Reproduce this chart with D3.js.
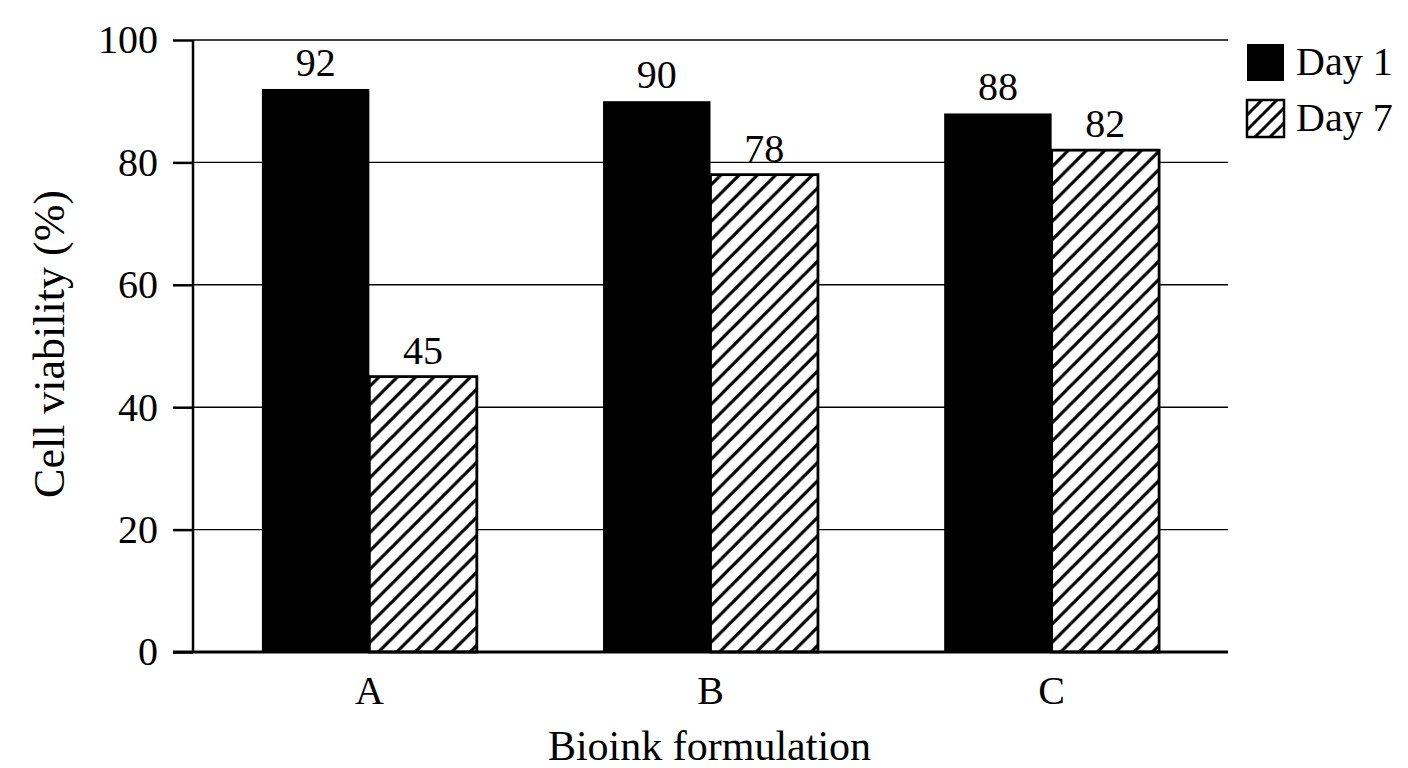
<!DOCTYPE html>
<html>
<head>
<meta charset="utf-8">
<script src="https://cdn.jsdelivr.net/npm/d3@7"></script>
<style>
  body { margin: 0; background: #fff; }
  text { font-family: "Liberation Serif", "Times New Roman", serif; fill: #000; }
</style>
</head>
<body>
<script>
// data
const categories = ['A', 'B', 'C'];
const seriesNames = ['Day 1', 'Day 7'];
const day1 = [92, 90, 88];
const day7 = [45, 78, 82];
const yTicks = [0, 20, 40, 60, 80, 100];

const width = 1408, height = 768;
// plot edges ("top" clashes with window.top, so prefixed)
const plotL = 193, plotR = 1228, plotT = 40, plotB = 652;

const svg = d3.select('body').append('svg')
    .attr('width', width)
    .attr('height', height);

// hatch patterns ("/" lines)
const defs = svg.append('defs');
function hatch(id, s, sw) {
    const p = defs.append('pattern')
        .attr('id', id)
        .attr('patternUnits', 'userSpaceOnUse')
        .attr('width', s).attr('height', s);
    p.append('rect').attr('width', s).attr('height', s).attr('fill', '#fff');
    p.append('path')
        .attr('d', `M${-s/4},${s/4}L${s/4},${-s/4}M0,${s}L${s},0M${s*3/4},${s*5/4}L${s*5/4},${s*3/4}`)
        .attr('stroke', '#000')
        .attr('stroke-width', sw);
}
hatch('hatch', 18.3, 3.2);
hatch('hatchSmall', 15, 3);

const x = d3.scaleBand()
    .domain(categories)
    .range([plotL, plotR])
    .paddingInner(0.37)
    .paddingOuter(0.202);

const xs = d3.scaleBand()
    .domain(seriesNames)
    .range([0, x.bandwidth()]);

const y = d3.scaleLinear()
    .domain([0, 100])
    .range([plotB, plotT]);

// gridlines
svg.append('g')
  .selectAll('line')
  .data(yTicks.filter(d => d > 0))
  .join('line')
    .attr('x1', plotL).attr('x2', plotR)
    .attr('y1', d => y(d)).attr('y2', d => y(d))
    .attr('stroke', '#000')
    .attr('stroke-width', 1.4);

// y axis
const yAxis = svg.append('g')
    .attr('transform', `translate(${plotL},0)`)
    .call(d3.axisLeft(y).tickValues(yTicks).tickSize(20).tickPadding(15));
yAxis.select('.domain').remove();
yAxis.selectAll('.tick line').attr('stroke-width', 2.5);
yAxis.selectAll('.tick text')
    .attr('font-size', 40)
    .attr('font-family', '"Liberation Serif", "Times New Roman", serif');

// bars
const rows = categories.map((c, i) => ({cat: c, values: [day1[i], day7[i]]}));
const groups = svg.append('g')
  .selectAll('g')
  .data(rows)
  .join('g')
    .attr('transform', d => `translate(${x(d.cat)},0)`);

groups.selectAll('rect')
  .data(d => d.values.map((v, j) => ({name: seriesNames[j], value: v})))
  .join('rect')
    .attr('x', d => xs(d.name))
    .attr('y', d => y(d.value))
    .attr('width', xs.bandwidth())
    .attr('height', d => y(0) - y(d.value))
    .attr('fill', d => d.name === 'Day 1' ? '#000' : 'url(#hatch)')
    .attr('stroke', '#000')
    .attr('stroke-width', d => d.name === 'Day 1' ? 0 : 2.8);

groups.selectAll('text')
  .data(d => d.values.map((v, j) => ({name: seriesNames[j], value: v})))
  .join('text')
    .attr('x', d => xs(d.name) + xs.bandwidth() / 2)
    .attr('y', d => y(d.value) - 13)
    .attr('text-anchor', 'middle')
    .attr('font-size', 40)
    .text(d => d.value);

// axis lines
svg.append('line')
    .attr('x1', plotL).attr('x2', plotL)
    .attr('y1', plotT).attr('y2', plotB)
    .attr('stroke', '#000').attr('stroke-width', 2.5);
svg.append('line')
    .attr('x1', plotL - 20).attr('x2', plotR)
    .attr('y1', plotB).attr('y2', plotB)
    .attr('stroke', '#000').attr('stroke-width', 3);

// category labels
svg.append('g')
  .selectAll('text')
  .data(categories)
  .join('text')
    .attr('x', d => x(d) + x.bandwidth() / 2)
    .attr('y', 704)
    .attr('text-anchor', 'middle')
    .attr('font-size', 40)
    .text(d => d);

// axis titles
svg.append('text')
    .attr('x', (plotL + plotR) / 2 - 1)
    .attr('y', 760)
    .attr('text-anchor', 'middle')
    .attr('font-size', 42)
    .text('Bioink formulation');

svg.append('text')
    .attr('transform', `translate(64,${(plotT + plotB) / 2 - 2}) rotate(-90)`)
    .attr('text-anchor', 'middle')
    .attr('font-size', 44)
    .text('Cell viability (%)');

// legend
const legend = svg.append('g')
  .selectAll('g')
  .data(seriesNames)
  .join('g')
    .attr('transform', (d, i) => `translate(1247,${44 + i * 56})`);
legend.append('rect')
    .attr('width', 37).attr('height', 37)
    .attr('fill', d => d === 'Day 1' ? '#000' : 'url(#hatchSmall)')
    .attr('stroke', '#000')
    .attr('stroke-width', d => d === 'Day 1' ? 0 : 2.5);
legend.append('text')
    .attr('x', 49)
    .attr('y', 31)
    .attr('font-size', 40)
    .text(d => d);
</script>
</body>
</html>
